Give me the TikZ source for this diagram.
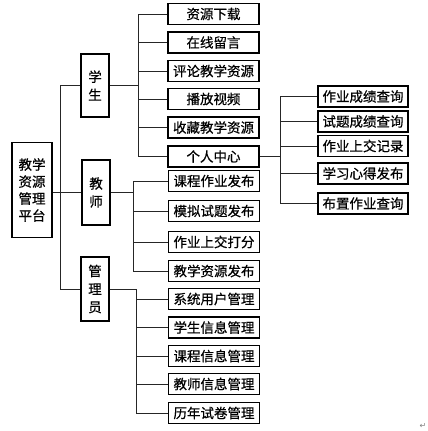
\documentclass[tikz,border=0pt]{standalone}
\usepackage{fontspec}
\setmainfont{Noto Sans CJK SC}[FakeBold=0.6]
\newfontfamily\symfont{DejaVu Sans}
\begin{document}
\begin{tikzpicture}[x=1pt,y=-1pt,
  box/.style={draw=black,line width=1.1pt,inner sep=0pt,font=\fontsize{13.5}{17}\selectfont},
  leaf/.style={box,minimum width=91pt,minimum height=21pt},
  pcleaf/.style={box,minimum width=90pt,minimum height=21pt},
  mid/.style={box,minimum width=28pt,align=center,font=\fontsize{13.5}{18}\selectfont},
  conn/.style={draw=black!85,line width=0.8pt}]
\useasboundingbox (0,0) rectangle (428,431);
% root
\node[box,minimum width=40pt,minimum height=95pt,align=center] (root) at (32,190) {教学\\资源\\管理\\平台};
% middle
\node[mid,minimum height=63pt] (stu) at (95,85.5) {学\\生};
\node[mid,minimum height=65pt] (tea) at (96,192.5) {教\\师};
\node[mid,minimum height=64pt] (adm) at (95,289) {管\\理\\员};
% student leaves
\node[leaf] (s1) at (213.5,14) {资源下载};
\node[leaf] (s2) at (213.5,42.5) {在线留言};
\node[leaf] (s3) at (213.5,71) {评论教学资源};
\node[leaf] (s4) at (213.5,99) {播放视频};
\node[leaf] (s5) at (213.5,127.5) {收藏教学资源};
\node[leaf] (s6) at (213.5,156.5) {个人中心};
% teacher leaves
\node[leaf] (t1) at (214,181) {课程作业发布};
\node[leaf] (t2) at (214,211) {模拟试题发布};
\node[leaf] (t3) at (214,242) {作业上交打分};
\node[leaf] (t4) at (214,271) {教学资源发布};
% admin leaves
\node[leaf] (a1) at (214,299) {系统用户管理};
\node[leaf] (a2) at (214,327.5) {学生信息管理};
\node[leaf] (a3) at (214,356) {课程信息管理};
\node[leaf] (a4) at (214,384) {教师信息管理};
\node[leaf] (a5) at (214,413) {历年试卷管理};
% personal centre leaves
\node[pcleaf] (p1) at (363,96.5) {作业成绩查询};
\node[pcleaf] (p2) at (363,121.5) {试题成绩查询};
\node[pcleaf] (p3) at (363,146) {作业上交记录};
\node[pcleaf] (p4) at (363,173.5) {学习心得发布};
\node[pcleaf] (p5) at (363,203.5) {布置作业查询};
% trunk coordinates
\coordinate (spine) at (60,0);
\coordinate (sv) at (138,0);
\coordinate (tv) at (133,0);
\coordinate (av) at (136,0);
\coordinate (pv) at (280,0);
% root to middle
\draw[conn] (root.east |- tea.west) -- (tea.west);
\draw[conn] (spine |- stu.west) -- (spine |- adm.west);
\draw[conn] (spine |- stu.west) -- (stu.west);
\draw[conn] (spine |- adm.west) -- (adm.west);
% student
\draw[conn] (stu.east) -- (sv |- stu.east);
\draw[conn] (sv |- s1.west) -- (sv |- s6.west);
\foreach \n in {s1,s2,s3,s4,s5,s6} \draw[conn] (sv |- \n.west) -- (\n.west);
% teacher
\draw[conn] (tea.east) -- (tv |- tea.east);
\draw[conn] (tv |- t1.west) -- (tv |- t4.west);
\foreach \n in {t1,t2,t3,t4} \draw[conn] (tv |- \n.west) -- (\n.west);
% admin
\draw[conn] (adm.east) -- (av |- adm.east);
\draw[conn] (av |- adm.east) -- (av |- a5.west);
\foreach \n in {a1,a2,a3,a4,a5} \draw[conn] (av |- \n.west) -- (\n.west);
% personal centre
\draw[conn] (s6.east) -- (pv |- s6.east);
\draw[conn] (pv |- p1.west) -- (pv |- p5.west);
\foreach \n in {p1,p2,p3,p4,p5} \draw[conn] (pv |- \n.west) -- (\n.west);
% paragraph mark
\node[text=black!50,font=\symfont\fontsize{8}{8}\selectfont,inner sep=0pt] (mark) at (423,426) {↵};
\end{tikzpicture}
\end{document}
